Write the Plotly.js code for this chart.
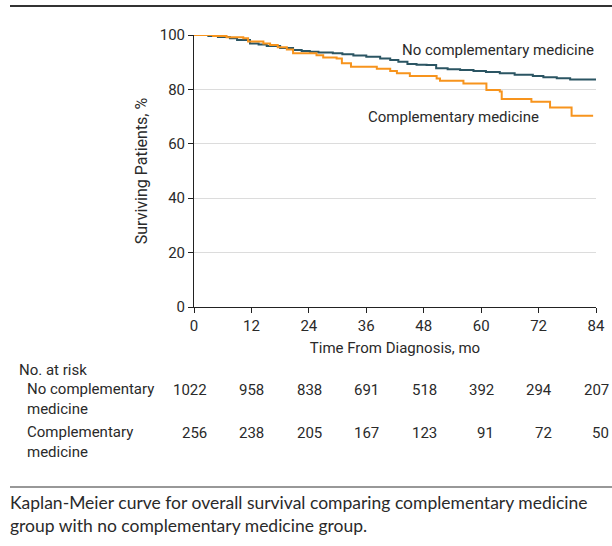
<!DOCTYPE html>
<html>
<head>
<meta charset="utf-8">
<script src="https://cdn.plot.ly/plotly-3.0.1.min.js"></script>
<style>html,body{margin:0;padding:0;background:#fff;}#chart{width:612px;height:546px;}</style>
</head>
<body>
<div id="chart"></div>
<script>
// Kaplan-Meier estimates (months, % surviving)
var noCompTime = [0, 3, 5, 7.5, 9, 11.7, 13.5, 15.2, 18, 20.7, 22.5, 24.2, 26, 29, 31, 33.3, 36, 38.9, 41, 42.7, 44.6, 46.5, 48.6, 50.6, 53, 55.6, 58.4, 61, 63.9, 67, 70.8, 73, 75.8, 78.6, 84];
var noCompSurv = [100, 99.6, 99.3, 98.8, 98.2, 96.9, 96.5, 96, 95.2, 94.5, 94.1, 93.8, 93.6, 93.3, 92.9, 92.5, 92, 91.4, 90.8, 90.2, 89.3, 89.1, 89, 87.8, 87.4, 87.1, 86.8, 86.4, 85.9, 85.4, 84.9, 84.5, 84.1, 83.6, 83.6];
var compTime = [0, 4, 6.8, 10.3, 11.3, 14.5, 15.9, 17.5, 19.4, 20.7, 25.6, 27, 29.8, 30.9, 32.8, 38.2, 41, 42.4, 45.1, 50.7, 51.4, 56.3, 61.1, 63.9, 64.3, 70.5, 74.4, 78.9, 83.4];
var compSurv = [100, 99.6, 99.2, 98.8, 97.6, 96.9, 96.3, 95.5, 94.7, 93.3, 92.6, 91.7, 91.4, 89.6, 88.3, 87.6, 86.8, 85.9, 84.9, 84.0, 83.2, 82.2, 79.8, 79.2, 76.5, 75.5, 73.3, 70.3, 70.3];

var riskMonths = [0, 12, 24, 36, 48, 60, 72, 84];
var riskNoComp = [1022, 958, 838, 691, 518, 392, 294, 207];
var riskComp = [256, 238, 205, 167, 123, 91, 72, 50];

var groupNames = ["No complementary medicine", "Complementary medicine"];
var yTicks = [0, 20, 40, 60, 80, 100];
var captionText = "Kaplan-Meier curve for overall survival comparing complementary medicine<br>group with no complementary medicine group.";

var FONT = "Roboto, sans-serif";
var FS = 15;
var TXT = "#2a2a2a";
var darkColor = "#2b5563";
var orangeColor = "#f7941d";

var traces = [
  {x: noCompTime, y: noCompSurv, type: "scatter", mode: "lines", line: {shape: "hv", color: darkColor, width: 2}, name: groupNames[0], hoverinfo: "skip"},
  {x: compTime, y: compSurv, type: "scatter", mode: "lines", line: {shape: "hv", color: orangeColor, width: 2}, name: groupNames[1], hoverinfo: "skip"}
];

var annotations = [
  {xref: "x", yref: "y", x: 84, y: 94.4, xanchor: "right", yanchor: "middle", text: groupNames[0], showarrow: false, font: {family: FONT, size: FS, color: TXT}},
  {xref: "x", yref: "y", x: 72.5, y: 69.7, xanchor: "right", yanchor: "middle", text: groupNames[1], showarrow: false, font: {family: FONT, size: FS, color: TXT}},
  {xref: "paper", yref: "paper", x: (17 - 194) / 402, y: (307 - 370) / 272, xanchor: "left", yanchor: "middle", text: "No. at risk", showarrow: false, font: {family: FONT, size: FS, color: TXT}},
  {xref: "paper", yref: "paper", x: (25 - 194) / 402, y: (307 - 399) / 272, xanchor: "left", yanchor: "middle", align: "left", text: "No complementary<br>medicine", showarrow: false, font: {family: FONT, size: FS, color: TXT}},
  {xref: "paper", yref: "paper", x: (25 - 194) / 402, y: (307 - 442) / 272, xanchor: "left", yanchor: "middle", align: "left", text: "Complementary<br>medicine", showarrow: false, font: {family: FONT, size: FS, color: TXT}},
  {xref: "paper", yref: "paper", x: (8 - 194) / 402, y: (307 - 514) / 272, xanchor: "left", yanchor: "middle", align: "left", text: captionText, showarrow: false, font: {family: "Lato, sans-serif", size: 17.5, color: TXT}}
];

riskMonths.forEach(function (m, i) {
  annotations.push({xref: "x", yref: "paper", x: m, y: (307 - 390) / 272, xanchor: "right", yanchor: "middle", xshift: 15, text: String(riskNoComp[i]), showarrow: false, font: {family: FONT, size: FS, color: TXT}});
  annotations.push({xref: "x", yref: "paper", x: m, y: (307 - 433) / 272, xanchor: "right", yanchor: "middle", xshift: 15, text: String(riskComp[i]), showarrow: false, font: {family: FONT, size: FS, color: TXT}});
});

var shapes = [
  {type: "line", xref: "paper", yref: "paper", x0: (10 - 194) / 402, x1: (612 - 194) / 402, y0: (307 - 6) / 272, y1: (307 - 6) / 272, line: {color: "#333", width: 2}},
  {type: "line", xref: "paper", yref: "paper", x0: (10 - 194) / 402, x1: (612 - 194) / 402, y0: (307 - 487) / 272, y1: (307 - 487) / 272, line: {color: "#333", width: 1.2}}
];

var layout = {
  width: 612, height: 546,
  margin: {l: 194, r: 16, t: 35, b: 239},
  paper_bgcolor: "#fff", plot_bgcolor: "#fff",
  showlegend: false,
  font: {family: FONT, size: FS, color: TXT},
  xaxis: {
    range: [0, 84], tickvals: riskMonths, ticks: "outside", ticklen: 5, tickcolor: "#222",
    showline: true, linecolor: "#222", linewidth: 1, showgrid: false, zeroline: false,
    tickfont: {family: FONT, size: FS, color: TXT},
    title: {text: "Time From Diagnosis, mo", font: {family: FONT, size: FS, color: TXT}, standoff: 8}
  },
  yaxis: {
    range: [0, 100], tickvals: yTicks, ticks: "outside", ticklen: 5, tickcolor: "#222",
    showline: true, linecolor: "#222", linewidth: 1, showgrid: true, gridcolor: "#dcdcdc", zeroline: false,
    tickfont: {family: FONT, size: FS, color: TXT},
    title: {text: "Surviving Patients, %", font: {family: FONT, size: 16, color: TXT}, standoff: 8}
  },
  annotations: annotations,
  shapes: shapes
};

Plotly.newPlot("chart", traces, layout, {staticPlot: true, displayModeBar: false});
</script>
</body>
</html>
